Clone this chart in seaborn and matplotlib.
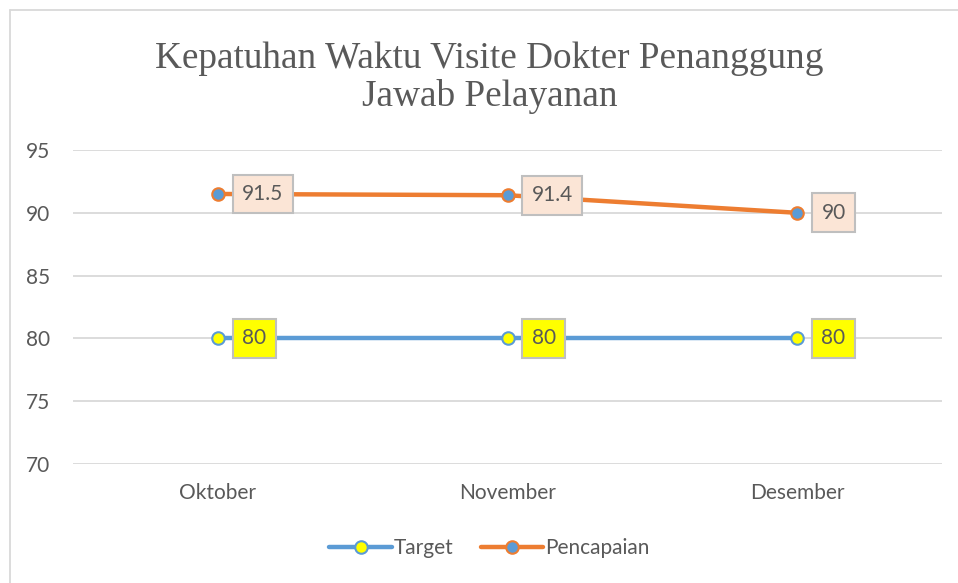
import pandas as pd
import matplotlib.pyplot as plt
import seaborn as sns

# data
months = ["Oktober", "November", "Desember"]
target = [80, 80, 80]
pencapaian = [91.5, 91.4, 90]
y_ticks = [70, 75, 80, 85, 90, 95]

df = pd.DataFrame({"bulan": months, "pos": range(len(months)),
                   "Target": target, "Pencapaian": pencapaian})

sns.set_theme(style="white")
plt.rcParams["font.family"] = ["Lato", "DejaVu Sans"]

fig = plt.figure(figsize=(9.58, 5.83), dpi=100)
ax = fig.add_axes([0.0762, 0.2041, 0.9071, 0.5386])

blue = "#5B9BD5"
orange = "#ED7D31"
grid = "#D9D9D9"
txt = "#595959"
fs = 15

for y in y_ticks:
    ax.axhline(y, color=grid, lw=1.3, zorder=0)

sns.lineplot(data=df, x="pos", y="Target", ax=ax, color=blue, lw=3.2,
             marker="o", markersize=9, markerfacecolor="#FFFF00",
             markeredgecolor=blue, markeredgewidth=1.5, label="Target", zorder=3)
sns.lineplot(data=df, x="pos", y="Pencapaian", ax=ax, color=orange, lw=3.2,
             marker="o", markersize=9, markerfacecolor=blue,
             markeredgecolor=orange, markeredgewidth=1.5, label="Pencapaian", zorder=3)

def fmt(v):
    return f"{v:g}"

for vals, face in [(target, "#FFFF00"), (pencapaian, "#FBE5D6")]:
    for i, v in enumerate(vals):
        ax.annotate(fmt(v), (i, v), xytext=(17.5, 0), textcoords="offset points",
                    ha="left", va="center", fontsize=fs, color=txt, zorder=5,
                    bbox=dict(boxstyle="square,pad=0.45", fc=face, ec="#BFBFBF", lw=1.5))

ax.set_xlim(-0.5, 2.5)
ax.set_ylim(70, 95)
ax.set_yticks(y_ticks)
ax.set_xticks(range(len(months)))
ax.set_xticklabels(months)
ax.tick_params(axis="both", labelsize=fs, colors=txt, length=0)
ax.tick_params(axis="x", pad=14)
ax.tick_params(axis="y", pad=16.5)
ax.set_xlabel("")
ax.set_ylabel("")
sns.despine(ax=ax, left=True, bottom=True)

ax.legend(loc="center", bbox_to_anchor=(0.511, 0.06), bbox_transform=fig.transFigure,
          ncol=2, frameon=False, fontsize=fs, labelcolor=txt, handlelength=3.0,
          handletextpad=0.1, columnspacing=1.3)

fig.text(0.511, 0.866, "Kepatuhan Waktu Visite Dokter Penanggung\nJawab Pelayanan",
         ha="center", va="center", fontsize=26.8, color=txt,
         family=["Liberation Serif", "DejaVu Serif"], linespacing=1.12)

# chart frame (only the top and left edges show in the crop)
fig.add_artist(plt.Line2D([0.0104, 0.0104], [0, 0.983], transform=fig.transFigure, color=grid, lw=1.3))
fig.add_artist(plt.Line2D([0.0104, 1.0], [0.983, 0.983], transform=fig.transFigure, color=grid, lw=1.3))

fig.savefig("out.png", dpi=100)
